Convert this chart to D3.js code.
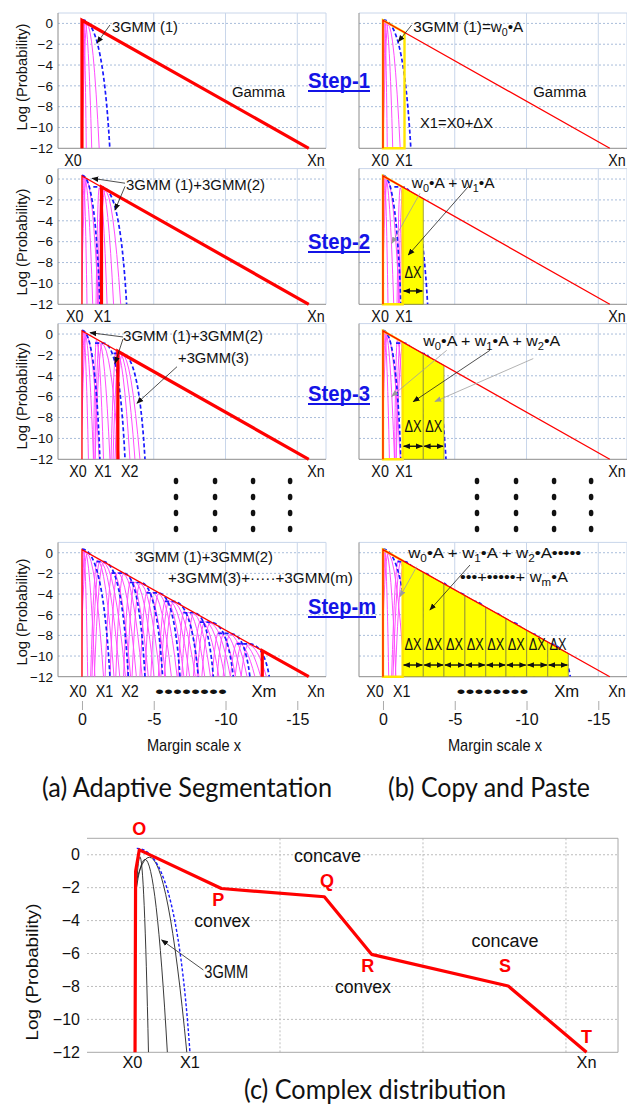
<!DOCTYPE html>
<html>
<head>
<meta charset="utf-8">
<script src="https://cdn.jsdelivr.net/npm/d3@7"></script>
<style>
  body { margin: 0; background: #fff; }
  svg { display: block; }
</style>
</head>
<body>
<div id="chart"></div>
<script>
// ? axis values shared by the 8 small panels
const yTicks = [0, -2, -4, -6, -8, -10, -12]
const xTicks = [0, -5, -10, -15]
const xTickLabels = ['0', '-5', '-10', '-15']
const stepNames = ['Step-1', 'Step-2', 'Step-3', 'Step-m']

// ? gamma tail, a straight line in log space from X0 to Xn
const gammaTop = [0, 0.3]
const gammaEnd = [-15.8, -12]
// where the thick (not yet fitted) red part starts in each step
const redCut = [[0, 0.3], [-1.36, -0.76], [-2.5, -1.65], [-12.56, -9.48]]

// ? 3GMM sums (blue dashed): [plateau start, plateau end, level, foot at -12]
const blue1 = [[0, 0, 0.35, -1.94]]
const blue2 = [[0, 0, 0.35, -1.25], [-0.79, -1.36, -0.76, -3.11]]
const blue3 = [[0, 0, 0.35, -1.25], [-0.91, -1.5, -0.88, -3.0], [-2.2, -2.75, -1.85, -4.39]]
const blueM = [
	[0, 0, 0.35, -1.95], [-1.02, -1.48, -0.86, -3.23], [-2.07, -2.88, -1.97, -4.39],
	[-3.34, -4.04, -2.88, -5.62], [-4.5, -5.32, -3.89, -6.83], [-5.78, -6.36, -4.71, -8.1],
	[-7.06, -7.76, -5.81, -9.15], [-8.22, -8.92, -6.72, -10.54], [-9.49, -10.31, -7.81, -11.7],
	[-10.78, -11.59, -8.82, -13.05],
]

// ? single gaussians (magenta): [peak x, peak log p, foot at -12]
const pink1 = [[-0.1, 0.3, -0.3], [-0.2, 0.15, -0.68], [-0.35, -0.1, -1.2]]
const pink2 = [
	[-0.08, 0.3, -0.35], [-0.18, 0.1, -0.75], [-0.3, -0.1, -1.15],
	[-1.2, -0.85, -1.75], [-1.4, -0.9, -2.2], [-1.6, -1.1, -2.7],
]
const pink3 = [
	[-0.08, 0.3, -0.45], [-0.18, 0.1, -0.8], [-0.3, -0.1, -1.2],
	[-1.0, -0.6, -1.5], [-1.2, -0.8, -1.95], [-1.4, -0.95, -2.6],
	[-2.4, -1.55, -3.34], [-2.6, -1.75, -3.69], [-2.8, -1.95, -4.04],
]
const pinkM = [
	[-0.1, 0.3, -0.4], [-0.2, 0.15, -0.9], [-0.35, -0.1, -1.5],
	[-1.07, -0.71, -2.23], [-1.25, -0.81, -2.63], [-1.48, -0.96, -3.03],
	[-2.12, -1.82, -3.39], [-2.48, -1.92, -3.79], [-2.88, -2.07, -4.19],
	[-3.39, -2.73, -4.62], [-3.69, -2.83, -5.02], [-4.04, -2.98, -5.42],
	[-4.55, -3.74, -5.83], [-4.91, -3.84, -6.23], [-5.32, -3.99, -6.63],
	[-5.83, -4.56, -7.1], [-6.07, -4.66, -7.5], [-6.36, -4.81, -7.9],
	[-7.11, -5.66, -8.15], [-7.41, -5.76, -8.55], [-7.76, -5.91, -8.95],
	[-8.27, -6.57, -9.54], [-8.57, -6.67, -9.94], [-8.92, -6.82, -10.34],
	[-9.54, -7.66, -10.7], [-9.9, -7.76, -11.1], [-10.31, -7.91, -11.5],
	[-10.83, -8.67, -12.05], [-11.18, -8.77, -12.45], [-11.59, -8.92, -12.85],
]
const blues = [blue1, blue2, blue3, blueM]
const pinks = [pink1, pink2, pink3, pinkM]

// ? copy & paste boxes (right column)
const boxEdges = [-1.37, -2.81, -4.25, -5.71, -7.16, -8.57, -10.01, -11.48, -12.91]
const boxTops = [-0.77, -1.89, -3.01, -4.15, -5.27, -6.37, -7.49, -8.64, -9.75]
const boxCount = [0, 1, 2, 8]
const firstBox = [[-1.5, -0.87], [-1.37, -0.77], [-1.37, -0.77], [-1.37, -0.77]]
const dxLabelY = [0, -9.48, -9.35, -9.42]
const dxArrowY = [0, -10.72, -10.75, -10.87]

// ? labels under each panel [text, x]
const xLabL = [
	[['X0', 0.63], ['Xn', -16.3]],
	[['X0', 0.5], ['X1', -1.43], ['Xn', -16.3]],
	[['X0', 0.28], ['X1', -1.46], ['X2', -3.33], ['Xn', -16.3]],
	[['X0', 0.28], ['X1', -1.57], ['X2', -3.34], ['••••••••', -7.6], ['Xm', -12.68], ['Xn', -16.3]],
]
const xLabR = [
	[['X0', 0.2], ['X1', -1.46], ['Xn', -16.3]],
	[['X0', 0.2], ['X1', -1.46], ['Xn', -16.3]],
	[['X0', 0.2], ['X1', -1.46], ['Xn', -16.3]],
	[['X0', 0.55], ['X1', -1.3], ['••••••••', -7.63], ['Xm', -12.8], ['Xn', -16.3]],
]

// ? annotations (data coords of each panel)
const notesL = [
	[{ t: '3GMM (1)', x: -2.09, y: -0.83, w: 66 }, { t: 'Gamma', x: -10.45, y: -7.04, w: 53 }],
	[{ t: '3GMM (1)+3GMM(2)', x: -3.07, y: -1.05, w: 139 }],
	[{ t: '3GMM (1)+3GMM(2)', x: -2.86, y: -0.64, w: 140 }, { t: '+3GMM(3)', x: -6.69, y: -2.77, w: 71 }],
	[{ t: '3GMM (1)+3GMM(2)', x: -3.69, y: -0.87, w: 138 }, { t: '+3GMM(3)+·····+3GMM(m)', x: -5.99, y: -2.96, w: 185 }],
]
const arrowsL = [
	[[-1.95, -0.15, -1.05, -1.88, 'k']],
	[[-3.0, -0.4, -0.7, 0.07, 'k'], [-3.0, -0.7, -2.3, -2.97, 'k']],
	[[-2.86, -0.28, -0.56, 0.13, 'k'], [-2.86, -0.47, -2.3, -2.8, 'k'], [-6.62, -3.13, -3.83, -6.63, 'k']],
	[],
]
const notesR = [
	[{ t: '3GMM (1)=w_0•A', x: -2.11, y: -0.83, w: 110 }, { t: 'Gamma', x: -10.47, y: -7.04, w: 53 }, { t: 'X1=X0+ΔX', x: -2.58, y: -10.08, w: 73 }],
	[{ t: 'w_0•A + w_1•A', x: -2.0, y: -0.83, w: 83 }],
	[{ t: 'w_0•A + w_1•A + w_2•A', x: -2.81, y: -1.15, w: 137 }],
	[{ t: 'w_0•A + w_1•A + w_2•A•••••', x: -1.76, y: -0.54, w: 173 }, { t: '•••+•••••+ w_m•A', x: -5.36, y: -2.8, w: 108 }],
]
const arrowsR = [
	[[-2.0, -0.15, -1.07, -1.76, 'k']],
	[[-2.58, -1.37, -0.61, -6.16, 'g'], [-5.94, -0.73, -1.76, -7.28, 'k']],
	[[-4.44, -1.56, -0.61, -5.97, 'g'], [-7.45, -1.56, -2.11, -6.48, 'k'], [-10.47, -2.35, -3.62, -6.47, 'g']],
	[[-2.35, -1.35, -1.18, -4.26, 'g'], [-6.06, -1.19, -3.27, -5.54, 'k']],
]

// ? (c) complex distribution
const cYTicks = [0, -2, -4, -6, -8, -10, -12]
const cGrid = [-5, -10, -15]
const cRed = [[0.07, -12], [0.05, -1.0], [-0.08, 0.3], [-2.95, -2.05], [-6.55, -2.55], [-8.2, -6.05], [-12.98, -7.97], [-15.72, -12]]
const cArches = [[-0.1, -0.12, -0.4], [-0.28, -0.28, -1.06], [-0.43, -0.15, -1.74]]
const cBlue = [0.01, 0.01, 0.39, -1.85]
const cPoints = [['O', -0.08, 1.2], ['P', -2.84, -3.11], ['Q', -6.64, -1.94], ['R', -8.07, -7.1], ['S', -12.87, -7.1], ['T', -15.72, -11.45]]
const cNotes = [
	{ t: 'convex', x: -2.0, y: -4.37, w: 56 }, { t: 'concave', x: -5.49, y: -0.42, w: 67 },
	{ t: 'convex', x: -6.92, y: -8.42, w: 56 }, { t: 'concave', x: -11.7, y: -5.59, w: 67 },
	{ t: '3GMM', x: -2.35, y: -7.5, w: 44 },
]
const cXLab = [['X0', 0.16], ['X1', -1.85], ['Xn', -15.72]]

// ---------------------------------------------------------------
const W = 627
const H = 1111
const xDom = [1.67, -17]
const leftRange = [58, 326]
const rightRange = [359, 627]
const rowRanges = [[13, 148.3], [168.6, 304.3], [323.6, 459.3], [542.4, 676.7]]
const stepBase = [88, 249, 401, 614]
const stepW = [62, 62, 62, 68]
const logMid = [77, 242, 396, 612]
const dotCols = [-6.55, -9.27, -11.92, -14.5]
const dotRows = [481, 497, 513, 529]
const legRatio = 0.4 // left leg of a gaussian is mostly hidden, draw it short

const fMain = "'Liberation Sans', Arial, sans-serif"
const fNarrow = "'Liberation Sans Narrow', 'Liberation Sans', Arial, sans-serif"
const fCap = "Lato, 'Open Sans', sans-serif"
const RED = '#ff0000'
const BLUE = '#1a1aff'
const PINK = '#ff4dff'

const svg = d3.select('#chart').append('svg').attr('width', W).attr('height', H)
	.attr('viewBox', [0, 0, W, H])
const defs = svg.append('defs')

function marker(id, color, size) {
	defs.append('marker').attr('id', id)
		.attr('viewBox', '0 0 10 10').attr('refX', 9).attr('refY', 5)
		.attr('markerUnits', 'userSpaceOnUse')
		.attr('markerWidth', size).attr('markerHeight', size)
		.attr('orient', 'auto-start-reverse')
		.append('path').attr('d', 'M0,1L10,5L0,9z').attr('fill', color)
}
marker('ahk', '#111', 7)
marker('ahg', '#9a9a9a', 7)

function txt(g, str, x, y, o = {}) {
	const t = g.append('text').attr('x', x).attr('y', y)
		.attr('font-family', o.family || fMain)
		.attr('font-size', o.size || 15)
		.attr('fill', o.fill || '#111')
		.attr('text-anchor', o.anchor || 'start')
	if (o.weight) t.attr('font-weight', o.weight)
	// ? subscripts written as _0, _1, _m
	let sub = false
	str.split(/_(\w)/).forEach((p, i) => {
		if (!p) return
		const s = t.append('tspan').text(p)
		if (i % 2) { s.attr('dy', 4).attr('font-size', '0.7em'); sub = true }
		else if (sub) { s.attr('dy', -4); sub = false }
	})
	if (o.w) t.attr('textLength', o.w).attr('lengthAdjust', 'spacingAndGlyphs')
	return t
}

// parabola in log space = quadratic bezier with its vertex on the peak
function archPath(sx, sy, [pk, py, ft], ratio = 1) {
	const lf = pk + (pk - ft) * ratio
	return `M${sx(lf)},${sy(-12)}Q${sx((lf + pk) / 2)},${sy(py)} ${sx(pk)},${sy(py)}` +
		`Q${sx((pk + ft) / 2)},${sy(py)} ${sx(ft)},${sy(-12)}`
}
function bluePath(sx, sy, [ps, pe, lv, ft]) {
	const d = ft - pe
	const h = lv + 12
	return `M${sx(ps)},${sy(lv)}L${sx(pe)},${sy(lv)}` +
		`C${sx(pe + 0.45 * d)},${sy(lv)} ${sx(pe + 0.8 * d)},${sy(lv - 0.25 * h)} ${sx(ft)},${sy(-12)}`
}

function arrow(g, sx, sy, [a, b, c, d, col]) {
	g.append('line')
		.attr('x1', sx(a)).attr('y1', sy(b)).attr('x2', sx(c)).attr('y2', sy(d))
		.attr('stroke', col === 'k' ? '#222' : '#a0a0a0').attr('stroke-width', 0.8)
		.attr('marker-end', `url(#${col === 'k' ? 'ahk' : 'ahg'})`)
}

function panel(i, side) {
	const left = side === 'L'
	const sx = d3.scaleLinear().domain(xDom).range(left ? leftRange : rightRange)
	const sy = d3.scaleLinear().domain([1, -12]).range(rowRanges[i])
	const [x0, x1] = sx.range()
	const [y0, y1] = sy.range()
	const g = svg.append('g')

	// ? grid
	g.append('g').selectAll('line').data(xTicks.slice(1)).join('line')
		.attr('x1', (d) => sx(d)).attr('x2', (d) => sx(d)).attr('y1', y0).attr('y2', y1)
		.attr('stroke', '#c9d6ea').attr('stroke-width', 1)
	g.append('g').selectAll('line').data(yTicks.slice(0, -1)).join('line')
		.attr('x1', x0).attr('x2', x1).attr('y1', (d) => sy(d)).attr('y2', (d) => sy(d))
		.attr('stroke', '#9fb6d6').attr('stroke-width', 0.9).attr('stroke-dasharray', '2,2')
	g.append('path').attr('d', `M${x0},${y0}H${x1}V${y1}`)
		.attr('fill', 'none').attr('stroke', '#c9d6ea')
	g.append('path').attr('d', `M${x0},${y0}V${y1}H${x1}`)
		.attr('fill', 'none').attr('stroke', '#8c8c8c')

	if (left) {
		const ax = g.append('g').attr('transform', `translate(${x0},0)`)
			.call(d3.axisLeft(sy).tickValues(yTicks).tickSize(0).tickPadding(5))
		ax.select('.domain').remove()
		ax.selectAll('text').attr('font-family', fMain).attr('font-size', 13.5).attr('fill', '#111')
		txt(g, 'Log (Probability)', 0, 0, { size: 14.5, w: 107, anchor: 'middle' })
			.attr('transform', `translate(22,${logMid[i]}) rotate(-90)`)
			.attr('dy', '0.35em')
	}

	// ? curves, cut at X0
	const cid = `clip${side}${i}`
	defs.append('clipPath').attr('id', cid).append('rect')
		.attr('x', sx(0)).attr('y', y0).attr('width', x1 - sx(0)).attr('height', y1 - y0)
	const cg = g.append('g').attr('clip-path', `url(#${cid})`)
	cg.append('g').selectAll('path').data(pinks[i]).join('path')
		.attr('d', (d) => archPath(sx, sy, d, legRatio))
		.attr('fill', 'none').attr('stroke', PINK).attr('stroke-width', 1)
	cg.append('g').selectAll('path').data(blues[i]).join('path')
		.attr('d', (d) => bluePath(sx, sy, d))
		.attr('fill', 'none').attr('stroke', BLUE).attr('stroke-width', 1.7)
		.attr('stroke-dasharray', '4,2.5')

	const line = d3.line().x((d) => sx(d[0])).y((d) => sy(d[1]))

	if (!left) {
		// ? copy and paste blocks
		const boxes = d3.range(boxCount[i]).map((k) => [boxEdges[k], boxEdges[k + 1], boxTops[k], boxTops[k + 1]])
		g.append('g').selectAll('path').data(boxes).join('path')
			.attr('d', (b) => line([[b[0], -12], [b[0], b[2]], [b[1], b[3]], [b[1], -12]]) + 'Z')
			.attr('fill', '#ffff00').attr('stroke', '#8d8d3a').attr('stroke-width', 0.8)
		const fb = firstBox[i]
		g.append('path').attr('d', line([[0, -12], gammaTop, fb, [fb[0], -12]]) + 'Z')
			.attr('fill', 'none').attr('stroke', '#ffe600').attr('stroke-width', 2.4)
		g.append('path').attr('d', line([[0, -12], gammaTop, gammaEnd]))
			.attr('fill', 'none').attr('stroke', RED).attr('stroke-width', 1.3)
		// ? delta x arrows
		if (boxes.length) {
			g.append('g').selectAll('text').data(boxes).join('text')
				.attr('x', (b) => (sx(b[0]) + sx(b[1])) / 2).attr('y', sy(dxLabelY[i]))
				.attr('text-anchor', 'middle').attr('font-family', fNarrow).attr('font-size', 16)
				.attr('textLength', 17).attr('lengthAdjust', 'spacingAndGlyphs').attr('fill', '#111')
				.text('ΔX')
			g.append('g').selectAll('line').data(boxes).join('line')
				.attr('x1', (b) => sx(b[0]) + 1).attr('x2', (b) => sx(b[1]) - 1)
				.attr('y1', sy(dxArrowY[i])).attr('y2', sy(dxArrowY[i]))
				.attr('stroke', '#111').attr('stroke-width', 1.4)
				.attr('marker-start', 'url(#ahk)').attr('marker-end', 'url(#ahk)')
		}
	} else {
		const [cx, cy] = redCut[i]
		g.append('path').attr('d', line([[0, -12], gammaTop, [cx, cy]]))
			.attr('fill', 'none').attr('stroke', RED).attr('stroke-width', 1.3)
		g.append('path').attr('d', line([[cx, -12], [cx, cy], gammaEnd]))
			.attr('fill', 'none').attr('stroke', RED).attr('stroke-width', 3.2)
	}

	// ? notes and arrows
	const notes = left ? notesL[i] : notesR[i]
	notes.forEach((n) => txt(g, n.t, sx(n.x), sy(n.y), { size: 15.5, w: n.w }))
	;(left ? arrowsL[i] : arrowsR[i]).forEach((a) => arrow(g, sx, sy, a))

	// ? X0 .. Xn under the panel
	const labs = left ? xLabL[i] : xLabR[i]
	labs.forEach(([t, x]) => {
		const w = t === 'Xm' ? 25 : t.length > 2 ? 72 : 17.5
		txt(g, t, sx(x), y1 + (i === 3 ? 20 : 17.5), { size: 16, family: fNarrow, anchor: 'middle', w })
	})

	if (i === 3) {
		const ax = g.append('g').attr('transform', `translate(0,701)`)
			.call(d3.axisBottom(sx).tickValues(xTicks).tickFormat((d, k) => xTickLabels[k]).tickSize(9).tickPadding(4))
		ax.select('.domain').remove()
		ax.selectAll('line').attr('stroke', '#aaa')
		ax.selectAll('text').attr('font-family', fNarrow).attr('font-size', 16).attr('fill', '#111')
		txt(g, 'Margin scale x', sx(-7.8), 751, { size: 17, family: fNarrow, anchor: 'middle', w: 94 })
	}
	if (i === 2) {
		// ? the vertical ellipsis between step-3 and step-m
		const pts = dotCols.flatMap((c) => dotRows.map((r) => [sx(c), r]))
		g.append('g').selectAll('ellipse').data(pts).join('ellipse')
			.attr('cx', (d) => d[0]).attr('cy', (d) => d[1]).attr('rx', 2.3).attr('ry', 3.3)
			.attr('fill', '#111')
	}
	return g
}

for (let i = 0; i < 4; i++) {
	panel(i, 'L')
	panel(i, 'R')
	// ? blue step label between the columns
	const sg = svg.append('g')
	txt(sg, stepNames[i], 308, stepBase[i], { size: 22, weight: 'bold', fill: '#1414e6', w: stepW[i] })
	sg.append('line').attr('x1', 308).attr('x2', 308 + stepW[i])
		.attr('y1', stepBase[i] + 3).attr('y2', stepBase[i] + 3)
		.attr('stroke', '#1414e6').attr('stroke-width', 1.8)
}

txt(svg, '(a) Adaptive Segmentation', 187, 797, { size: 26, family: fCap, anchor: 'middle', w: 290 })
txt(svg, '(b) Copy and Paste', 489, 797, { size: 26, family: fCap, anchor: 'middle', w: 202 })

// ---------------------------------------------------------------
// ? (c) complex distribution
{
	const sx = d3.scaleLinear().domain([1.75, -16.82]).range([87, 618])
	const sy = d3.scaleLinear().domain([1, -12]).range([838.3, 1052.3])
	const [x0, x1] = sx.range()
	const [y0, y1] = sy.range()
	const g = svg.append('g')

	g.append('g').selectAll('line').data(cGrid).join('line')
		.attr('x1', (d) => sx(d)).attr('x2', (d) => sx(d)).attr('y1', y0).attr('y2', y1)
		.attr('stroke', '#bdbdbd').attr('stroke-dasharray', '2,2')
	g.append('g').selectAll('line').data(cYTicks.slice(0, -1)).join('line')
		.attr('x1', x0).attr('x2', x1).attr('y1', (d) => sy(d)).attr('y2', (d) => sy(d))
		.attr('stroke', '#bdbdbd').attr('stroke-dasharray', '2,2')
	g.append('path').attr('d', `M${x0},${y0}H${x1}V${y1}H${x0}`)
		.attr('fill', 'none').attr('stroke', '#a8a8a8')

	const ax = g.append('g').attr('transform', `translate(${x0},0)`)
		.call(d3.axisLeft(sy).tickValues(cYTicks).tickSize(0).tickPadding(7))
	ax.select('.domain').remove()
	ax.selectAll('text').attr('font-family', fMain).attr('font-size', 16).attr('fill', '#111')
	txt(g, 'Log (Probability)', 0, 0, { size: 17, w: 137, anchor: 'middle' })
		.attr('transform', 'translate(32,972) rotate(-90)').attr('dy', '0.35em')

	defs.append('clipPath').attr('id', 'clipC').append('rect')
		.attr('x', sx(0.07)).attr('y', y0).attr('width', x1 - sx(0.07)).attr('height', y1 - y0)
	const cg = g.append('g').attr('clip-path', 'url(#clipC)')
	cg.append('g').selectAll('path').data(cArches).join('path')
		.attr('d', (d) => archPath(sx, sy, d))
		.attr('fill', 'none').attr('stroke', '#222').attr('stroke-width', 0.9)
	cg.append('path').attr('d', bluePath(sx, sy, cBlue))
		.attr('fill', 'none').attr('stroke', BLUE).attr('stroke-width', 1.4).attr('stroke-dasharray', '3,2')

	const line = d3.line().x((d) => sx(d[0])).y((d) => sy(d[1]))
	g.append('path').attr('d', line(cRed)).attr('fill', 'none')
		.attr('stroke', RED).attr('stroke-width', 3.2).attr('stroke-linejoin', 'round')

	cPoints.forEach(([t, x, y]) => txt(g, t, sx(x), sy(y), { size: 18, weight: 'bold', fill: RED, anchor: 'middle' }))
	cNotes.forEach((n) => txt(g, n.t, sx(n.x), sy(n.y), { size: 18, w: n.w }))
	arrow(g, sx, sy, [-2.32, -7.0, -0.86, -5.18, 'k'])
	cXLab.forEach(([t, x]) => txt(g, t, sx(x), 1068, { size: 17, anchor: 'middle', w: 20 }))
}

txt(svg, '(c) Complex distribution', 375, 1099, { size: 26, family: fCap, anchor: 'middle', w: 262 })
</script>
</body>
</html>
